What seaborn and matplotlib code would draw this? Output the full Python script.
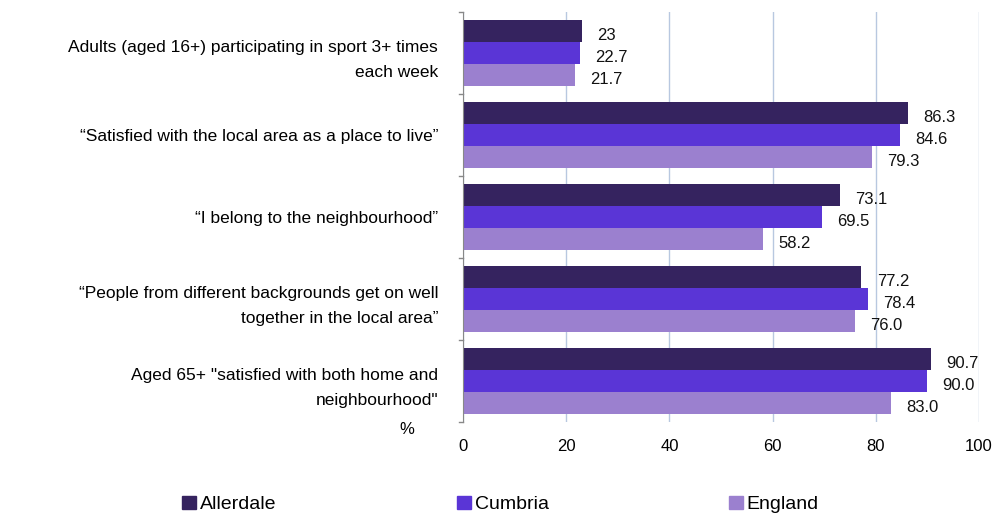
import matplotlib
matplotlib.use("Agg")
import matplotlib.pyplot as plt
import seaborn as sns
import pandas as pd

categories = ["Adults (aged 16+) participating in sport 3+ times\neach week",
              "“Satisfied with the local area as a place to live”",
              "“I belong to the neighbourhood”",
              "“People from different backgrounds get on well\ntogether in the local area”",
              "Aged 65+ \"satisfied with both home and\nneighbourhood\""]
series = ["Allerdale", "Cumbria", "England"]
allerdale = [23, 86.3, 73.1, 77.2, 90.7]
cumbria = [22.7, 84.6, 69.5, 78.4, 90.0]
england = [21.7, 79.3, 58.2, 76.0, 83.0]
labels = [["23", "86.3", "73.1", "77.2", "90.7"],
          ["22.7", "84.6", "69.5", "78.4", "90.0"],
          ["21.7", "79.3", "58.2", "76.0", "83.0"]]
colors = ["#35235f", "#5a35d6", "#9b80cf"]

plt.rcParams["font.family"] = ["Liberation Sans", "DejaVu Sans"]

rows = []
for s, vals in zip(series, [allerdale, cumbria, england]):
    for c, v in zip(categories, vals):
        rows.append({"cat": c, "series": s, "val": v})
df = pd.DataFrame(rows)

fig = plt.figure(figsize=(9.98, 5.23), dpi=100)
ax = fig.add_axes([0.464, 0.193, 0.517, 0.784])
sns.barplot(data=df, y="cat", x="val", hue="series", palette=colors, orient="h",
            width=0.8, ax=ax, legend=False, edgecolor="none", saturation=1)
for cont, labs in zip(ax.containers, labels):
    anns = ax.bar_label(cont, labels=labs, padding=11, fontsize=12, color="#111111")
    for a in anns:
        a.set_y(-3)
ax.set_xlim(0, 100)
ax.set_ylim(4.5, -0.5)
ax.set_xticks([0, 20, 40, 60, 80, 100])
ax.set_ylabel(""); ax.set_xlabel("")
ax.xaxis.grid(True, color="#b8c8e0", linewidth=1)
ax.set_axisbelow(True)
for s in ["top", "right", "bottom"]:
    ax.spines[s].set_visible(False)
ax.spines["left"].set_color("#888888")
ax.tick_params(axis="y", length=0, labelsize=12.5, pad=18)
ax.tick_params(axis="x", length=0, labelsize=12, pad=12)
for t in ax.get_yticklabels():
    t.set_horizontalalignment("right")
    t.set_linespacing(1.9)
for y in [-0.5, 0.5, 1.5, 2.5, 3.5, 4.5]:
    ax.plot([-0.8, 0], [y, y], color="#888888", lw=1, clip_on=False)
fig.text(0.4, 0.17, "%", fontsize=12)

from matplotlib.patches import Patch
handles = [Patch(color=c, label=s) for c, s in zip(colors, series)]
fig.legend(handles=handles, loc="lower left", bbox_to_anchor=(0.165, -0.015), ncol=3,
           frameon=False, fontsize=14, handlelength=0.7, handleheight=0.7,
           handletextpad=0.2, columnspacing=9.3)
fig.savefig("out.png", dpi=100)
